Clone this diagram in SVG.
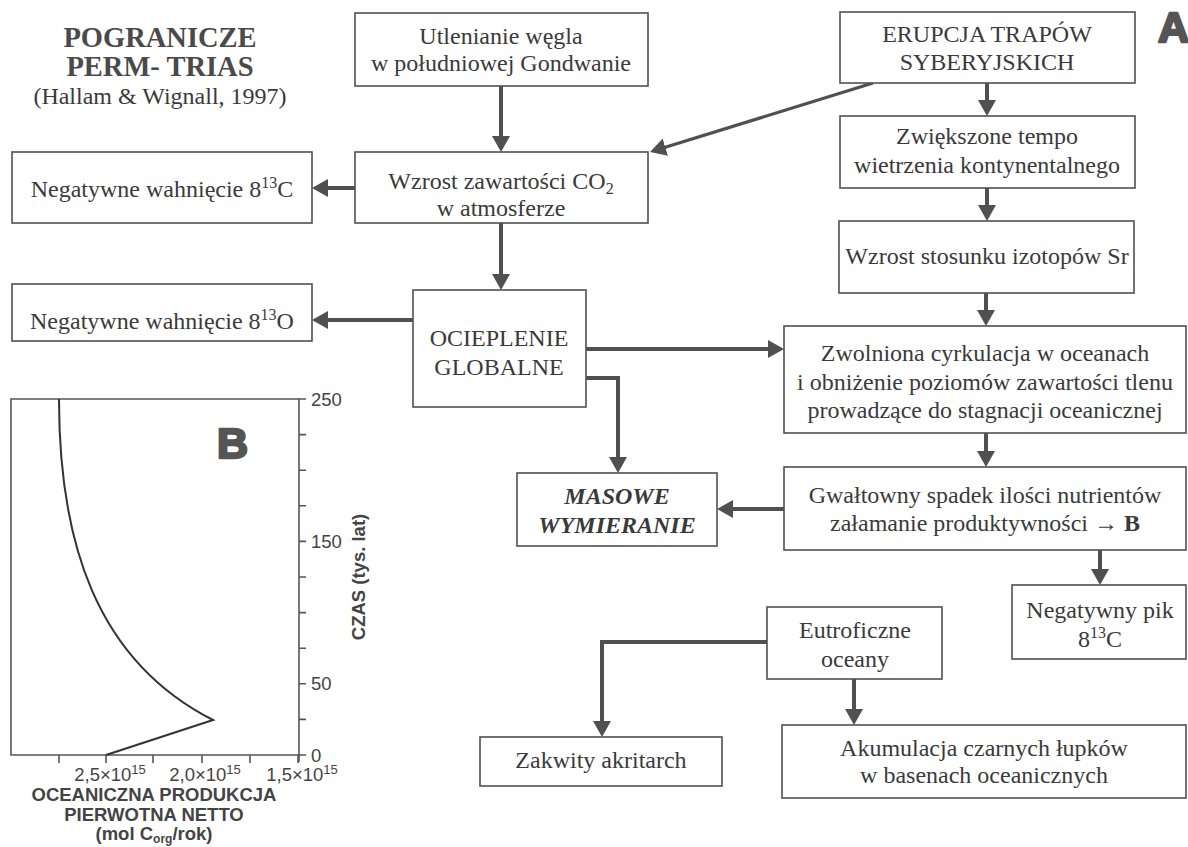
<svg xmlns="http://www.w3.org/2000/svg" width="1188" height="847" viewBox="0 0 1188 847">
<style>
.box{fill:#fff;stroke:#505050;stroke-width:1.6}
.t{font-family:"Liberation Serif","Times New Roman",serif;font-size:24px;fill:#3a3a3a;text-anchor:middle}
.title{font-family:"Liberation Serif","Times New Roman",serif;font-size:28.5px;font-weight:bold;fill:#4a4a4a;text-anchor:middle}
.conn{fill:none;stroke:#505050;stroke-width:4}
.ax{fill:none;stroke:#555;stroke-width:1.6}
.s{font-family:"Liberation Sans",Arial,sans-serif;font-size:18.5px;fill:#444}
.sb{font-family:"Liberation Sans",Arial,sans-serif;font-size:18.5px;font-weight:bold;fill:#444;text-anchor:middle}
.big{font-family:"Liberation Sans",Arial,sans-serif;font-size:43px;font-weight:bold;fill:#555;stroke:#555;stroke-width:2.5;stroke-linejoin:round}
</style>
<defs>
<marker id="ah" viewBox="0 0 16 18" refX="6" refY="9" markerWidth="16" markerHeight="18" markerUnits="userSpaceOnUse" orient="auto">
<path d="M0,0 L16,9 L0,18 z" fill="#505050"/>
</marker>
</defs>
<rect width="1188" height="847" fill="#fff"/>

<g id="title">
<text class="title" x="160" y="47">POGRANICZE</text>
<text class="title" x="160" y="76">PERM- TRIAS</text>
<text class="t" x="160" y="104">(Hallam &amp; Wignall, 1997)</text>
</g>
<text class="big" x="1158" y="42">A</text>

<g id="connectors">
<line class="conn" x1="501" y1="86" x2="501" y2="142" marker-end="url(#ah)"/>
<line class="conn" x1="873" y1="83" x2="659.6" y2="149" style="stroke-width:3.2" marker-end="url(#ah)"/>
<line class="conn" x1="987" y1="83" x2="987" y2="106" marker-end="url(#ah)"/>
<line class="conn" x1="987" y1="188" x2="987" y2="211" marker-end="url(#ah)"/>
<line class="conn" x1="986" y1="293" x2="986" y2="316" marker-end="url(#ah)"/>
<line class="conn" x1="355" y1="188" x2="322" y2="188" marker-end="url(#ah)"/>
<line class="conn" x1="501" y1="223" x2="501" y2="280" marker-end="url(#ah)"/>
<line class="conn" x1="413" y1="320" x2="322" y2="320" marker-end="url(#ah)"/>
<line class="conn" x1="586" y1="349" x2="774" y2="349" marker-end="url(#ah)"/>
<polyline class="conn" points="586,378 618,378 618,463" marker-end="url(#ah)"/>
<line class="conn" x1="784" y1="509" x2="727" y2="509" marker-end="url(#ah)"/>
<line class="conn" x1="986" y1="433" x2="986" y2="457" marker-end="url(#ah)"/>
<line class="conn" x1="1100" y1="550" x2="1100" y2="575" marker-end="url(#ah)"/>
<polyline class="conn" points="767,642 602,642 602,727" marker-end="url(#ah)"/>
<line class="conn" x1="854" y1="679" x2="854" y2="715" marker-end="url(#ah)"/>
</g>

<g id="n-utlenianie">
<rect class="box" x="355" y="13" width="293" height="73"/>
<text class="t" x="501" y="44">Utlenianie węgla</text>
<text class="t" x="501" y="71">w południowej Gondwanie</text>
</g>
<g id="n-co2">
<rect class="box" x="355" y="152" width="293" height="71"/>
<text class="t" x="501" y="189">Wzrost zawartości CO<tspan dy="5" font-size="16">2</tspan></text>
<text class="t" x="501" y="216">w atmosferze</text>
</g>
<g id="n-erupcja">
<rect class="box" x="840" y="12" width="295" height="71"/>
<text class="t" x="987" y="42">ERUPCJA TRAPÓW</text>
<text class="t" x="987" y="70">SYBERYJSKICH</text>
</g>
<g id="n-wietrzenie">
<rect class="box" x="840" y="116" width="295" height="72"/>
<text class="t" x="987" y="144">Zwiększone tempo</text>
<text class="t" x="987" y="173">wietrzenia kontynentalnego</text>
</g>
<g id="n-sr">
<rect class="box" x="839" y="221" width="295" height="72"/>
<text class="t" x="987" y="264">Wzrost stosunku izotopów Sr</text>
</g>
<g id="n-negc">
<rect class="box" x="12" y="152" width="300" height="71"/>
<text class="t" x="162" y="197">Negatywne wahnięcie 8<tspan dy="-9" font-size="16">13</tspan><tspan dy="9">C</tspan></text>
</g>
<g id="n-nego">
<rect class="box" x="12" y="284" width="300" height="57"/>
<text class="t" x="162" y="329">Negatywne wahnięcie 8<tspan dy="-9" font-size="16">13</tspan><tspan dy="9">O</tspan></text>
</g>
<g id="n-ocieplenie">
<rect class="box" x="413" y="290" width="173" height="117"/>
<text class="t" x="499" y="346">OCIEPLENIE</text>
<text class="t" x="499" y="375">GLOBALNE</text>
</g>
<g id="n-zwolniona">
<rect class="box" x="784" y="326" width="402" height="107"/>
<text class="t" x="985" y="361">Zwolniona cyrkulacja w oceanach</text>
<text class="t" x="985" y="390">i obniżenie poziomów zawartości tlenu</text>
<text class="t" x="985" y="418">prowadzące do stagnacji oceanicznej</text>
</g>
<g id="n-masowe">
<rect class="box" x="517" y="473" width="200" height="73"/>
<text class="t" x="617" y="504" font-weight="bold" font-style="italic">MASOWE</text>
<text class="t" x="617" y="533" font-weight="bold" font-style="italic">WYMIERANIE</text>
</g>
<g id="n-gwaltowny">
<rect class="box" x="784" y="467" width="402" height="83"/>
<text class="t" x="985" y="503">Gwałtowny spadek ilości nutrientów</text>
<text class="t" x="985" y="531">załamanie produktywności → <tspan font-weight="bold">B</tspan></text>
</g>
<g id="n-negpik">
<rect class="box" x="1012" y="585" width="174" height="74"/>
<text class="t" x="1100" y="618">Negatywny pik</text>
<text class="t" x="1100" y="647">8<tspan dy="-9" font-size="16">13</tspan><tspan dy="9">C</tspan></text>
</g>
<g id="n-eutro">
<rect class="box" x="767" y="607" width="175" height="72"/>
<text class="t" x="855" y="638">Eutroficzne</text>
<text class="t" x="855" y="667">oceany</text>
</g>
<g id="n-zakwity">
<rect class="box" x="480" y="737" width="242" height="49"/>
<text class="t" x="601" y="768">Zakwity akritarch</text>
</g>
<g id="n-akumulacja">
<rect class="box" x="782" y="725" width="404" height="73"/>
<text class="t" x="984" y="756">Akumulacja czarnych łupków</text>
<text class="t" x="984" y="783">w basenach oceanicznych</text>
</g>

<g id="chart-b">
<path class="ax" d="M299,399 L11,399 L11,755 L299,755 M299,399 L299,762"/>
<path class="ax" d="M299,399 h7 M299,434.6 h7 M299,470.2 h7 M299,505.8 h7 M299,541.4 h7 M299,577 h7 M299,612.6 h7 M299,648.2 h7 M299,683.8 h7 M299,719.4 h7 M299,755 h7"/>
<path class="ax" d="M59,755 v8 M106,755 v8 M153,755 v8 M202,755 v8 M250,755 v8 M298,755 v8"/>
<path d="M59,399 C59,540 95,660 213,720 L106,755" fill="none" stroke="#333" stroke-width="2"/>
<text class="s" x="311" y="406">250</text>
<text class="s" x="311" y="548">150</text>
<text class="s" x="311" y="690">50</text>
<text class="s" x="311" y="762">0</text>
<text class="s" x="110" y="781" text-anchor="middle">2,5×10<tspan dy="-7" font-size="13">15</tspan></text>
<text class="s" x="205" y="781" text-anchor="middle">2,0×10<tspan dy="-7" font-size="13">15</tspan></text>
<text class="s" x="302" y="781" text-anchor="middle">1,5×10<tspan dy="-7" font-size="13">15</tspan></text>
<text class="sb" transform="translate(365,577) rotate(-90)">CZAS (tys. lat)</text>
<text class="sb" x="154" y="801">OCEANICZNA PRODUKCJA</text>
<text class="sb" x="154" y="821">PIERWOTNA NETTO</text>
<text class="sb" x="154" y="840">(mol C<tspan dy="3" font-size="12">org</tspan><tspan dy="-3">/rok)</tspan></text>
<text class="big" x="217" y="458">B</text>
</g>
</svg>
